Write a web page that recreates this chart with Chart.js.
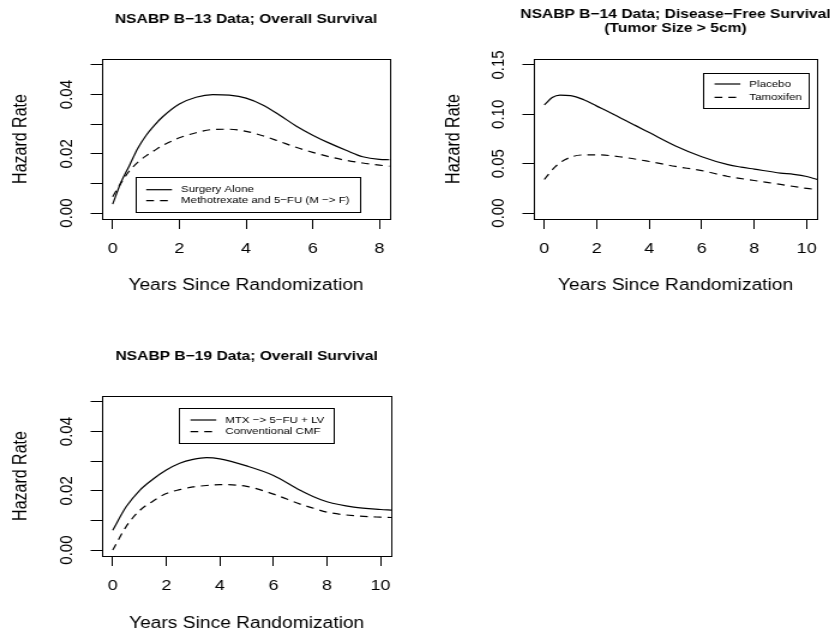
<!DOCTYPE html>
<html>
<head>
<meta charset="utf-8">
<script src="https://cdn.jsdelivr.net/npm/chart.js@4.4.1/dist/chart.umd.min.js"></script>
<style>
html, body { margin: 0; padding: 0; background: #fff; }
body { width: 830px; height: 633px; position: relative; overflow: hidden; }
.panel { position: absolute; transform: scaleX(1.2); transform-origin: 0 0; }
.panel canvas { display: block; }
</style>
</head>
<body>
<div class="panel" style="left:0;top:0"><canvas id="b13" width="346" height="310"></canvas></div>
<div class="panel" style="left:415px;top:0"><canvas id="b14" width="346" height="310"></canvas></div>
<div class="panel" style="left:0;top:310px"><canvas id="b19" width="346" height="323"></canvas></div>
<script>
// NSABP B-13, overall survival
const b13Years = [0, 0.25, 0.5, 0.75, 1, 1.25, 1.5, 2, 2.5, 3, 3.5, 4, 4.5, 5, 5.5, 6, 6.5, 7, 7.5, 8, 8.3];
const b13Surgery = [0.0030, 0.0104, 0.0160, 0.0218, 0.0262, 0.0296, 0.0325, 0.0368, 0.0391, 0.0400, 0.0398, 0.0388, 0.0365, 0.0331, 0.0294, 0.0263, 0.0236, 0.0212, 0.0190, 0.0181, 0.0180];
const b13MtxFu = [0.0055, 0.0102, 0.0142, 0.0171, 0.0193, 0.0211, 0.0228, 0.0254, 0.0271, 0.0282, 0.0283, 0.0276, 0.0261, 0.0242, 0.0222, 0.0205, 0.0190, 0.0178, 0.0169, 0.0162, 0.0158];

// NSABP B-14, disease-free survival (tumor > 5cm)
const b14PlaceboYears = [0, 0.3, 0.6, 1, 1.5, 2, 2.5, 3, 3.5, 4, 5, 6, 7, 7.5, 8, 9, 9.5, 10, 10.4];
const b14Placebo = [0.1095, 0.1170, 0.1195, 0.1190, 0.1148, 0.1083, 0.1019, 0.0949, 0.0883, 0.0815, 0.0680, 0.0571, 0.0490, 0.0465, 0.0445, 0.0405, 0.0392, 0.0370, 0.0340];
const b14TamYears = [0, 0.4, 0.8, 1.4, 2, 3, 4, 5, 6, 7, 8, 9, 10, 10.4];
const b14Tamoxifen = [0.0340, 0.0465, 0.0542, 0.0588, 0.0590, 0.0565, 0.0522, 0.0472, 0.0430, 0.0370, 0.0330, 0.0290, 0.0250, 0.0238];

// NSABP B-19, overall survival
const b19Years = [0, 0.5, 1, 1.5, 2, 2.5, 3, 3.5, 4, 5, 6, 7, 7.5, 8, 9, 10, 10.4];
const b19MtxLv = [0.0067, 0.0146, 0.0201, 0.0239, 0.0270, 0.0293, 0.0306, 0.0312, 0.0308, 0.0284, 0.0252, 0.0202, 0.0180, 0.0163, 0.0145, 0.0137, 0.0135];
const b19Cmf = [0.0000, 0.0079, 0.0133, 0.0165, 0.0191, 0.0204, 0.0213, 0.0218, 0.0221, 0.0215, 0.0189, 0.0155, 0.0141, 0.0128, 0.0116, 0.0111, 0.0110];

// axis ticks
const ticks8 = [0, 2, 4, 6, 8];
const ticks8Labels = ['0', '2', '4', '6', '8'];
const ticks10 = [0, 2, 4, 6, 8, 10];
const ticks10Labels = ['0', '2', '4', '6', '8', '10'];
const smallHazTicks = [0, 0.01, 0.02, 0.03, 0.04, 0.05];
const smallHazLabels = ['0.00', '', '0.02', '', '0.04', ''];
const bigHazTicks = [0, 0.05, 0.10, 0.15];
const bigHazLabels = ['0.00', '0.05', '0.10', '0.15'];

const fontFamily = '"Liberation Sans", Arial, Helvetica, sans-serif';
Chart.defaults.font.family = fontFamily;
Chart.defaults.color = '#000';

const toPoints = (xs, ys) => xs.map((x, i) => ({ x: x, y: ys[i] }));

let panelDecor = {
    id: 'panelDecor',
    afterDraw(chart, args, opts) {
        const { ctx, chartArea: a } = chart;
        ctx.save();
        ctx.strokeStyle = '#000';
        ctx.fillStyle = '#000';
        ctx.lineWidth = 1;
        ctx.strokeRect(Math.round(a.left) + 0.5, Math.round(a.top) + 0.5, Math.round(a.right - a.left), Math.round(a.bottom - a.top));

        // main title, centred over the plot box
        ctx.font = 'bold 13px ' + fontFamily;
        ctx.textAlign = 'center';
        ctx.textBaseline = 'middle';
        const cx = (a.left + a.right) / 2;
        opts.title.forEach((line, i) => ctx.fillText(line, cx, opts.titleY + i * 14));

        // legend box
        const lg = opts.legend;
        const bx = a.left + lg.dx;
        const by = a.top + lg.dy;
        ctx.strokeRect(Math.round(bx) + 0.5, Math.round(by) + 0.5, Math.round(lg.w), Math.round(lg.h));
        ctx.font = '9.6px ' + fontFamily;
        ctx.textAlign = 'left';
        chart.data.datasets.forEach((ds, i) => {
            const y = by + lg.rows[i];
            ctx.setLineDash(ds.borderDash || []);
            ctx.lineWidth = ds.borderWidth;
            ctx.beginPath();
            ctx.moveTo(bx + 9.3, y);
            ctx.lineTo(bx + 30.8, y);
            ctx.stroke();
            ctx.setLineDash([]);
            ctx.fillText(ds.label, bx + 38.3, y);
        });
        ctx.restore();
    }
};

let makePanel = (id, p) => {
    return new Chart(document.getElementById(id), {
        type: 'line',
        data: {
            datasets: [
                {
                    label: p.labels[0],
                    data: p.series[0],
                    borderColor: '#000',
                    borderWidth: 1.2,
                    pointRadius: 0,
                    cubicInterpolationMode: 'monotone',
                    fill: false,
                },
                {
                    label: p.labels[1],
                    data: p.series[1],
                    borderColor: '#000',
                    borderWidth: 1.2,
                    borderDash: [6.5, 5],
                    pointRadius: 0,
                    cubicInterpolationMode: 'monotone',
                    fill: false,
                },
            ],
        },
        options: {
            responsive: false,
            animation: false,
            events: [],
            layout: { padding: { left: 0, top: p.top, right: p.right, bottom: 0 } },
            scales: {
                x: {
                    type: 'linear',
                    min: p.xMin,
                    max: p.xMax,
                    afterBuildTicks: (s) => { s.ticks = p.xTicks.map((v) => ({ value: v })); },
                    afterFit: (s) => { s.height = p.xHeight; },
                    ticks: {
                        autoSkip: false,
                        maxRotation: 0,
                        padding: 11,
                        color: '#000',
                        font: { size: 15 },
                        callback: (v, i) => p.xLabels[i],
                    },
                    grid: { drawOnChartArea: false, drawTicks: true, tickLength: 10, color: '#000' },
                    border: { display: false },
                    title: {
                        display: true,
                        text: 'Years Since Randomization',
                        color: '#000',
                        font: { size: 16 },
                        padding: { top: 0, bottom: p.xTitlePad },
                    },
                },
                y: {
                    type: 'linear',
                    position: 'left',
                    min: p.yMin,
                    max: p.yMax,
                    afterBuildTicks: (s) => { s.ticks = p.yTicks.map((v) => ({ value: v })); },
                    afterFit: (s) => { s.width = p.yWidth; },
                    ticks: {
                        autoSkip: false,
                        minRotation: 90,
                        maxRotation: 90,
                        crossAlign: 'center',
                        padding: 5,
                        color: '#000',
                        font: { size: 15 },
                        callback: (v, i) => p.yLabels[i],
                    },
                    grid: { drawOnChartArea: false, drawTicks: true, tickLength: 9.5, color: '#000' },
                    border: { display: false },
                    title: {
                        display: true,
                        text: 'Hazard Rate',
                        color: '#000',
                        font: { size: 16 },
                        padding: { top: p.yTitlePad, bottom: 0 },
                    },
                },
            },
            plugins: {
                legend: { display: false },
                tooltip: { enabled: false },
                panelDecor: { title: p.title, titleY: p.titleY, legend: p.legend },
            },
        },
        plugins: [panelDecor],
    });
}

makePanel('b13', {
    title: ['NSABP B\u221213 Data; Overall Survival'],
    titleY: 19.5,
    labels: ['Surgery Alone', 'Methotrexate and 5\u2212FU (M \u2212> F)'],
    series: [toPoints(b13Years, b13Surgery), toPoints(b13Years, b13MtxFu)],
    xMin: -0.32, xMax: 8.32, xTicks: ticks8, xLabels: ticks8Labels,
    yMin: -0.002, yMax: 0.052, yTicks: smallHazTicks, yLabels: smallHazLabels,
    top: 59, right: 21, yWidth: 85, xHeight: 91, xTitlePad: 14.4, yTitlePad: 7.9,
    legend: { dx: 27.5, dy: 118, w: 186.7, h: 35, rows: [12.7, 23.7] },
});

makePanel('b14', {
    title: ['NSABP B\u221214 Data; Disease\u2212Free Survival', '(Tumor Size > 5cm)'],
    titleY: 14,
    labels: ['Placebo', 'Tamoxifen'],
    series: [toPoints(b14PlaceboYears, b14Placebo), toPoints(b14TamYears, b14Tamoxifen)],
    xMin: -0.4, xMax: 10.4, xTicks: ticks10, xLabels: ticks10Labels,
    yMin: -0.006, yMax: 0.156, yTicks: bigHazTicks, yLabels: bigHazLabels,
    top: 59, right: 6, yWidth: 99, xHeight: 91, xTitlePad: 14.4, yTitlePad: 22.9,
    legend: { dx: 141.3, dy: 13.7, w: 88.3, h: 34.6, rows: [11.3, 24.6] },
});

makePanel('b19', {
    title: ['NSABP B\u221219 Data; Overall Survival'],
    titleY: 46.7,
    labels: ['MTX \u2212> 5\u2212FU + LV', 'Conventional CMF'],
    series: [toPoints(b19Years, b19MtxLv), toPoints(b19Years, b19Cmf)],
    xMin: -0.4, xMax: 10.4, xTicks: ticks10, xLabels: ticks10Labels,
    yMin: -0.002, yMax: 0.052, yTicks: smallHazTicks, yLabels: smallHazLabels,
    top: 86, right: 20, yWidth: 85, xHeight: 77, xTitlePad: 0, yTitlePad: 7.9,
    legend: { dx: 64.4, dy: 12.3, w: 128.9, h: 35, rows: [11.7, 23.4] },
});
</script>
</body>
</html>
